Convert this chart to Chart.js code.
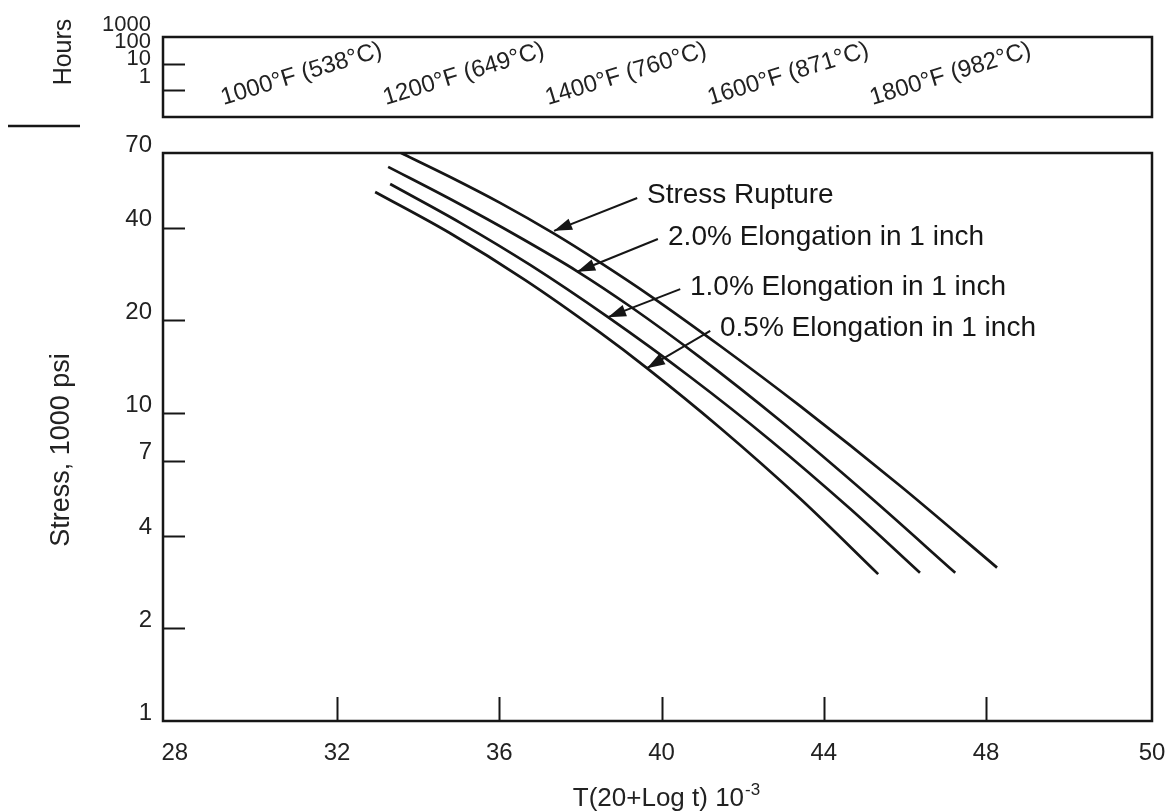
<!DOCTYPE html>
<html><head><meta charset="utf-8">
<script src="https://cdn.jsdelivr.net/npm/chart.js@4.4.1/dist/chart.umd.min.js"></script>
<style>
html,body{margin:0;padding:0;background:#fff;}
#wrap{position:relative;width:1165px;height:812px;overflow:hidden;}
#main{position:absolute;left:0;top:0;}
#top{position:absolute;left:0;top:0;}
</style></head><body>
<div id="wrap">
<canvas id="main" width="1165" height="812"></canvas>
<canvas id="top" width="1165" height="135"></canvas>
</div>
<script>
const FONT = '"Liberation Sans", Arial, Helvetica, sans-serif';
const INK = '#161616';

// ---- data (Larson-Miller parameter vs stress, 1000 psi) ----
const rupP       = [33.58, 34.79, 36.02, 37.35, 38.48, 39.72, 41.44, 43.42, 45.88, 48.27];
const rupStress  = [70.0, 58.5, 48.2, 38.3, 30.9, 24.06, 16.56, 10.54, 5.81, 3.15];
const el20P      = [33.26, 34.79, 36.51, 37.92, 39.22, 40.95, 42.92, 45.14, 47.24];
const el20Stress = [63.1, 49.6, 37.2, 28.9, 22.25, 15.18, 9.46, 5.34, 3.03];
const el10P      = [33.31, 35.03, 36.76, 38.68, 40.70, 42.68, 44.65, 46.37];
const el10Stress = [55.5, 41.6, 30.3, 20.5, 13.13, 8.17, 4.89, 3.03];
const el05P      = [32.94, 34.79, 36.64, 38.48, 39.64, 41.44, 43.42, 45.34];
const el05Stress = [52.3, 38.4, 27.05, 18.29, 14.01, 8.97, 5.27, 3.00];
const seriesNames = ['Stress Rupture', '2.0% Elongation in 1 inch', '1.0% Elongation in 1 inch', '0.5% Elongation in 1 inch'];

// ---- axes ----
const xTickLabels = ['28', '32', '36', '40', '44', '48', '50'];
const xInnerTicks = [32, 36, 40, 44, 48];
const yTickValues = [1, 2, 4, 7, 10, 20, 40, 70];
const yTickLabels = ['1', '2', '4', '7', '10', '20', '40', '70'];
const yInnerTicks = [2, 4, 7, 10, 20, 40];
const hourTickLabels = ['1000', '100', '10', '1'];
const hourInnerTicks = [10, 100];
const tempLabels = ['1000°F (538°C)', '1200°F (649°C)', '1400°F (760°C)', '1600°F (871°C)', '1800°F (982°C)'];
const tempStartP = [29.2, 33.2, 37.2, 41.2, 45.2];

const X_MIN = 27.71, X_MAX = 52.09;

function pts(P, S) { return P.map((p, i) => ({ x: p, y: S[i] })); }
const curveData = [pts(rupP, rupStress), pts(el20P, el20Stress), pts(el10P, el10Stress), pts(el05P, el05Stress)];

function arrow(ctx, x1, y1, x2, y2) {
  ctx.beginPath(); ctx.moveTo(x1, y1); ctx.lineTo(x2, y2); ctx.stroke();
  const a = Math.atan2(y2 - y1, x2 - x1), L = 18, W = 6;
  ctx.beginPath(); ctx.moveTo(x2, y2);
  ctx.lineTo(x2 - L * Math.cos(a) + W * Math.sin(a), y2 - L * Math.sin(a) - W * Math.cos(a));
  ctx.lineTo(x2 - L * Math.cos(a) - W * Math.sin(a), y2 - L * Math.sin(a) + W * Math.cos(a));
  ctx.closePath(); ctx.fill();
}

// annotation anchors in data units: text (P,stress), arrow tail, arrow tip
const notes = [
  { text: seriesNames[0], t: [39.64, 51.2], a: [39.40, 50.0], b: [37.35, 39.1] },
  { text: seriesNames[1], t: [40.16, 37.4], a: [39.91, 36.8], b: [37.92, 28.8] },
  { text: seriesNames[2], t: [40.70, 25.7], a: [40.46, 25.3], b: [38.68, 20.5] },
  { text: seriesNames[3], t: [41.44, 18.9], a: [41.20, 18.5], b: [39.64, 14.0] }
];

const mainDeco = {
  id: 'mainDeco',
  afterDraw(chart) {
    const ctx = chart.ctx, ca = chart.chartArea, sx = chart.scales.x, sy = chart.scales.y;
    ctx.save();
    ctx.strokeStyle = INK; ctx.fillStyle = INK; ctx.lineWidth = 2.5;
    ctx.strokeRect(ca.left, ca.top, ca.right - ca.left, ca.bottom - ca.top);
    ctx.lineWidth = 2;
    yInnerTicks.forEach(v => { const y = Math.round(sy.getPixelForValue(v)) + 0.5; ctx.beginPath(); ctx.moveTo(ca.left, y); ctx.lineTo(ca.left + 22, y); ctx.stroke(); });
    xInnerTicks.forEach(v => { const x = Math.round(sx.getPixelForValue(v)) + 0.5; ctx.beginPath(); ctx.moveTo(x, ca.bottom); ctx.lineTo(x, ca.bottom - 24); ctx.stroke(); });
    // annotations
    ctx.lineWidth = 2;
    ctx.font = '28px ' + FONT; ctx.textBaseline = 'middle'; ctx.textAlign = 'left';
    notes.forEach(n => {
      ctx.fillText(n.text, sx.getPixelForValue(n.t[0]), sy.getPixelForValue(n.t[1]));
      arrow(ctx, sx.getPixelForValue(n.a[0]), sy.getPixelForValue(n.a[1]), sx.getPixelForValue(n.b[0]), sy.getPixelForValue(n.b[1]));
    });
    // x title with superscript
    ctx.fillStyle = '#222';
    ctx.font = '26px ' + FONT; ctx.textBaseline = 'alphabetic';
    const base = 'T(20+Log t) 10';
    const w1 = ctx.measureText(base).width;
    ctx.font = '17px ' + FONT;
    const w2 = ctx.measureText('-3').width;
    const xl = 666 - (w1 + w2) / 2;
    ctx.font = '26px ' + FONT;
    ctx.fillText(base, xl, 806);
    ctx.font = '17px ' + FONT;
    ctx.fillText('-3', xl + w1 + 1, 795);
    // y title
    ctx.font = '27px ' + FONT; ctx.textAlign = 'center'; ctx.textBaseline = 'middle';
    ctx.translate(62, 450); ctx.rotate(-Math.PI / 2);
    ctx.fillText('Stress, 1000 psi', 0, 0);
    ctx.restore();
  }
};

const mainChart = new Chart(document.getElementById('main'), {
  type: 'line',
  data: {
    datasets: curveData.map((d, i) => ({
      label: seriesNames[i], data: d, borderColor: INK, borderWidth: 2.7,
      pointRadius: 0, fill: false, cubicInterpolationMode: 'monotone'
    }))
  },
  options: {
    responsive: false, animation: false, devicePixelRatio: 1,
    layout: { padding: { top: 153, right: 13, left: 0, bottom: 0 } },
    plugins: { legend: { display: false }, tooltip: { enabled: false } },
    scales: {
      x: {
        type: 'linear', min: X_MIN, max: X_MAX,
        grid: { display: false, drawTicks: false }, border: { display: false },
        afterBuildTicks(s) { s.ticks = [28].concat(xInnerTicks, [s.max]).map(v => ({ value: v })); },
        ticks: { autoSkip: false, maxRotation: 0, padding: 18, color: '#222', font: { family: FONT, size: 24 },
                 callback(v, i) { return xTickLabels[i]; } },
        afterFit(s) { s.height = 91; s.paddingLeft = 0; s.paddingRight = 0; }
      },
      y: {
        type: 'logarithmic', min: 1, max: 70,
        grid: { display: false, drawTicks: false }, border: { display: false },
        afterBuildTicks(s) { s.ticks = yTickValues.map(v => ({ value: v })); },
        ticks: { autoSkip: false, padding: 11, labelOffset: -8, color: '#222', font: { family: FONT, size: 24 },
                 callback(v, i) { return yTickLabels[i]; } },
        afterFit(s) { s.width = 163; s.paddingTop = 0; s.paddingBottom = 0; }
      }
    }
  },
  plugins: [mainDeco]
});

const topDeco = {
  id: 'topDeco',
  afterDraw(chart) {
    const ctx = chart.ctx, ca = chart.chartArea, sx = chart.scales.x, sy = chart.scales.y;
    ctx.save();
    ctx.strokeStyle = INK; ctx.fillStyle = '#222'; ctx.lineWidth = 2.5;
    ctx.strokeRect(ca.left, ca.top, ca.right - ca.left, ca.bottom - ca.top);
    ctx.lineWidth = 2;
    hourInnerTicks.forEach(v => { const y = Math.round(sy.getPixelForValue(v)) + 0.5; ctx.beginPath(); ctx.moveTo(ca.left, y); ctx.lineTo(ca.left + 22, y); ctx.stroke(); });
    // hour labels (stacked at left)
    const hy = [25, 42, 59, 77];
    ctx.font = '22px ' + FONT; ctx.textAlign = 'right'; ctx.textBaseline = 'middle';
    hourTickLabels.forEach((t, i) => ctx.fillText(t, ca.left - 12, hy[i]));
    // separator line
    ctx.lineWidth = 2.5; ctx.beginPath(); ctx.moveTo(8, 126); ctx.lineTo(80, 126); ctx.stroke();
    // Hours title
    ctx.save(); ctx.font = '25px ' + FONT; ctx.textAlign = 'center'; ctx.translate(64, 52); ctx.rotate(-Math.PI / 2); ctx.fillText('Hours', 0, 0); ctx.restore();
    // temperature labels
    ctx.font = '24px ' + FONT; ctx.textAlign = 'left'; ctx.textBaseline = 'alphabetic';
    tempLabels.forEach((t, i) => {
      ctx.save();
      ctx.translate(sx.getPixelForValue(tempStartP[i]), ca.bottom - 12);
      ctx.rotate(-17 * Math.PI / 180);
      ctx.fillText(t, 0, 0);
      ctx.restore();
    });
    ctx.restore();
  }
};

const topChart = new Chart(document.getElementById('top'), {
  type: 'line',
  data: { datasets: [{ data: tempStartP.map(p => ({ x: p, y: 1 })), pointRadius: 0, showLine: false }] },
  options: {
    responsive: false, animation: false, devicePixelRatio: 1,
    layout: { padding: { top: 37, right: 13, left: 163, bottom: 18 } },
    plugins: { legend: { display: false }, tooltip: { enabled: false } },
    scales: {
      x: { type: 'linear', min: X_MIN, max: X_MAX, display: false },
      y: { type: 'logarithmic', min: 1, max: 1000, display: false }
    }
  },
  plugins: [topDeco]
});
</script>
</body></html>
